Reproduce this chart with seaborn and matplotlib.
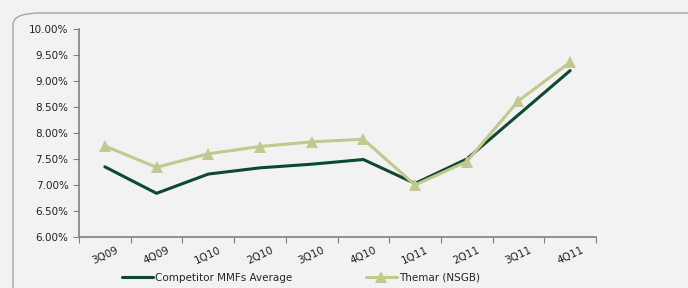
import matplotlib
matplotlib.use('Agg')
import matplotlib.pyplot as plt
from matplotlib.patches import FancyBboxPatch
from matplotlib.ticker import PercentFormatter
import seaborn as sns
import pandas as pd
import numpy as np

quarters = ['3Q09', '4Q09', '1Q10', '2Q10', '3Q10', '4Q10', '1Q11', '2Q11', '3Q11', '4Q11']
competitor = [7.35, 6.84, 7.21, 7.33, 7.40, 7.49, 7.03, 7.50, 8.35, 9.20]
themar = [7.75, 7.34, 7.60, 7.74, 7.83, 7.88, 7.00, 7.45, 8.62, 9.36]

data = pd.DataFrame({'Quarter': quarters, 'Competitor': competitor, 'Themar': themar})

sns.set_style('white')
plt.rcParams['font.family'] = ['DejaVu Sans']

bg = '#f2f2f2'
fig = plt.figure(figsize=(6.88, 2.88), dpi=100, facecolor=bg)
fig.patches.append(FancyBboxPatch((13 / 688, -0.2), 1.3, 1.2 - 13 / 288,
                                  boxstyle='round,pad=0,rounding_size=0.04',
                                  transform=fig.transFigure, fill=False,
                                  edgecolor='#a6a6a6', linewidth=1.0))
ax = fig.add_axes([79 / 688, 1 - 237 / 288, (596 - 79) / 688, (237 - 29) / 288])
ax.set_facecolor(bg)

sns.lineplot(data=data, x='Quarter', y='Competitor', color='#0b4a2c', linewidth=2.2,
             label='Competitor MMFs Average', ax=ax)
sns.lineplot(data=data, x='Quarter', y='Themar', color='#c3c88e', linewidth=2.2,
             marker='^', markersize=8.5, markeredgewidth=0,
             label='Themar (NSGB)', ax=ax)

ax.set_xlim(-0.5, len(quarters) - 0.5)
ax.set_ylim(6.0, 10.0)
ax.set_yticks(np.arange(6.0, 10.01, 0.5))
ax.yaxis.set_major_formatter(PercentFormatter(decimals=2))
ax.set_xticks(np.arange(-0.5, len(quarters), 1.0))
ax.set_xticklabels([])
ax.set_xticks(np.arange(len(quarters)), minor=True)
ax.set_xticklabels(quarters, minor=True, rotation=25, fontsize=7.5, color='#222222')
ax.tick_params(axis='x', which='minor', length=0, pad=6)
ax.tick_params(axis='x', which='major', length=4, color='#808080', direction='out')
ax.tick_params(axis='y', length=4, color='#808080', direction='out', labelsize=7.5,
               labelcolor='#222222')
ax.tick_params(left=True, bottom=True)
for s in ['top', 'right']:
    ax.spines[s].set_visible(False)
for s in ['left', 'bottom']:
    ax.spines[s].set_color('#808080')
    ax.spines[s].set_linewidth(1.2)
ax.set_xlabel('')
ax.set_ylabel('')

ax.legend(loc='center', bbox_to_anchor=(301 / 688, 1 - 278 / 288),
          bbox_transform=fig.transFigure, ncol=2, frameon=False, fontsize=7.5,
          handlelength=3, columnspacing=7, handletextpad=0.2)

fig.savefig('out.png', dpi=100, facecolor=bg)
